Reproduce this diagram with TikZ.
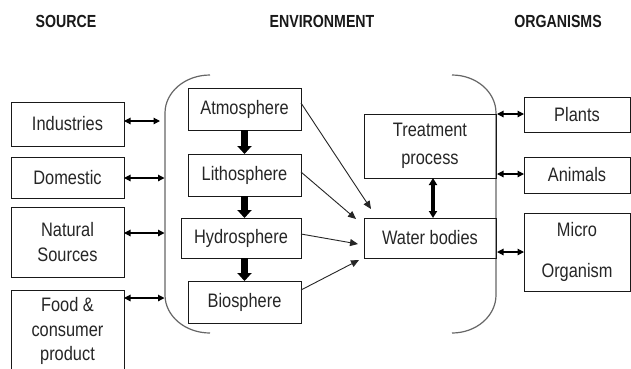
\documentclass[tikz,border=0pt]{standalone}
\usepackage{fontspec}
\setmainfont[FakeStretch=0.84]{Liberation Sans}
\newfontfamily\titlefont[FakeStretch=0.81]{Liberation Sans Bold}
\usetikzlibrary{arrows.meta}
\begin{document}
\begin{tikzpicture}[x=1pt,y=-1pt,
  box/.style={draw=black!90, line width=1pt, inner sep=0pt, outer sep=0pt, align=center,
    font=\fontsize{19.5}{24.5}\selectfont, text=black!85},
  ttl/.style={font=\titlefont\fontsize{17.5}{20}\selectfont, text=black!90, inner sep=0pt},
  bracket/.style={draw=black!60, line width=1.2pt},
  dbl/.style={line width=1.2pt, {Triangle[length=6.5pt,width=6.5pt]}-{Triangle[length=6.5pt,width=6.5pt]}},
  thinarr/.style={line width=0.9pt, draw=black!85, -{Triangle[length=8pt,width=7pt]}},
  thickarr/.style={line width=7pt, -{Triangle[length=8pt,width=14pt]}},
  thickdbl/.style={line width=3.5pt, {Triangle[length=7pt,width=8pt]}-{Triangle[length=7pt,width=8pt]}}
]
\useasboundingbox[fill=white] (0,0) rectangle (631,368);

% titles
\node[ttl] (tsrc) at (66,21.5) {SOURCE};
\node[ttl] (tenv) at (322,21.5) {ENVIRONMENT};
\node[ttl] (torg) at (558,21.5) {ORGANISMS};

% brackets
\draw[bracket] (210,75) arc[start angle=270, end angle=180, x radius=45, y radius=38]
  -- (165,295) arc[start angle=180, end angle=90, x radius=45, y radius=38];
\draw[bracket] (452,75) arc[start angle=270, end angle=360, x radius=44, y radius=38]
  -- (496,295) arc[start angle=0, end angle=90, x radius=44, y radius=38];

% source boxes
\node[box, minimum width=113pt, minimum height=44pt] (ind) at (67.5,124) {Industries};
\node[box, minimum width=113pt, minimum height=41pt] (dom) at (67.5,177.5) {Domestic};
\node[box, minimum width=113pt, minimum height=70pt] (nat) at (67.5,242) {Natural\\Sources};
\node[box, minimum width=113pt, minimum height=82pt] (food) at (67.5,331) {Food \&\\consumer\\product};

% environment boxes
\node[box, minimum width=113pt, minimum height=42pt] (atm) at (244.5,109) {Atmosphere};
\node[box, minimum width=113pt, minimum height=42pt] (lit) at (244.5,175) {Lithosphere};
\node[box, minimum width=120pt, minimum height=40pt] (hyd) at (241,238) {Hydrosphere};
\node[box, minimum width=113pt, minimum height=42pt] (bio) at (244.5,302) {Biosphere};
\node[box, minimum width=132pt, minimum height=64pt] (treat) at (430,146) {Treatment\\[3.5pt]process};
\node[box, minimum width=132pt, minimum height=40pt] (water) at (430,238) {Water bodies};

% organism boxes
\node[box, minimum width=106pt, minimum height=35pt] (plants) at (577,114.5) {Plants};
\node[box, minimum width=106pt, minimum height=36pt] (anim) at (577,175) {Animals};
\node[box, minimum width=106pt, minimum height=78pt] (micro) at (577,252) {Micro\\[16.5pt]Organism};

% bracket points
\coordinate (lb1) at (160,121);
\coordinate (lb2) at (164.5,178);
\coordinate (lb3) at (164.5,233);
\coordinate (lb4) at (164.5,298);
\coordinate (rb1) at (497,114);
\coordinate (rb2) at (497,174);
\coordinate (rb3) at (497,252);

% left double arrows
\draw[dbl] (ind.east |- lb1) -- (lb1);
\draw[dbl] (dom.east |- lb2) -- (lb2);
\draw[dbl] (nat.east |- lb3) -- (lb3);
\draw[dbl] (food.east |- lb4) -- (lb4);

% right double arrows
\draw[dbl] (rb1) -- (plants.west |- rb1);
\draw[dbl] (rb2) -- (anim.west |- rb2);
\draw[dbl] (rb3) -- (micro.west |- rb3);

% thick arrows
\draw[thickarr] (atm.south) -- (lit.north);
\draw[thickarr] (lit.south) -- (lit.south |- hyd.north);
\draw[thickarr] (bio.north |- hyd.south) -- (bio.north);
\draw[thickdbl] ([xshift=3pt]treat.south) -- ([xshift=3pt]water.north);

% thin arrows to water bodies
\coordinate (wa) at (371,209);
\coordinate (wb) at (356,219);
\coordinate (wc) at (358,244);
\coordinate (wd) at (359,260);
\draw[thinarr] ([yshift=6pt]atm.east) -- (wa);
\draw[thinarr] ([yshift=3pt]lit.east) -- (wb);
\draw[thinarr] ([yshift=4pt]hyd.east) -- (wc);
\draw[thinarr] ([yshift=12pt]bio.east) -- (wd);
\end{tikzpicture}
\end{document}
